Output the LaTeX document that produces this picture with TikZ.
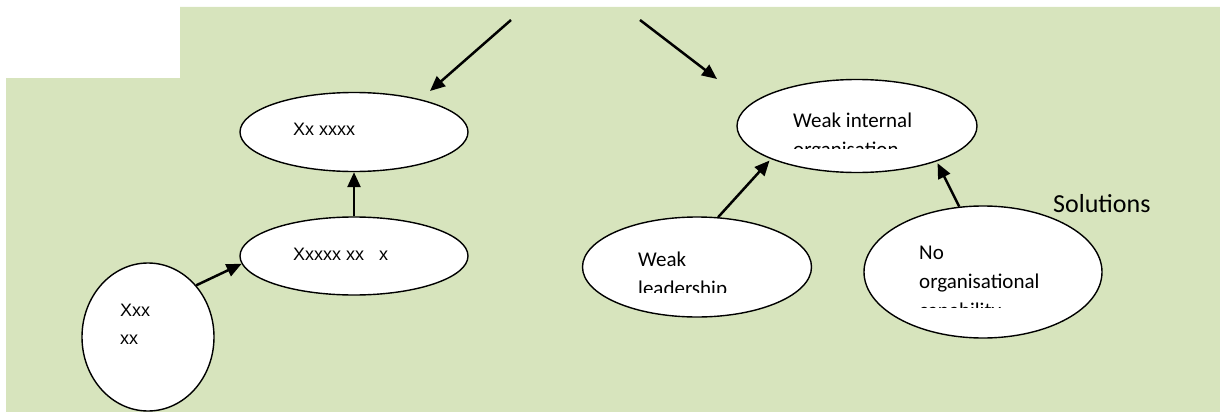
\documentclass[tikz,border=0pt]{standalone}
\usepackage{fontspec}
\setmainfont{Carlito}
\newfontfamily\arialfont{Liberation Sans}
\usetikzlibrary{shapes.geometric,arrows.meta}
\definecolor{bggreen}{HTML}{D7E4BD}
\begin{document}
\begin{tikzpicture}[
        x=1pt, y=-1pt,
        bubble/.style={draw, ellipse, fill=white, line width=1.4pt, inner sep=0pt},
        txt/.style={anchor=base west, inner sep=0pt, align=left, font=\fontsize{21}{29}\selectfont},
        xtxt/.style={anchor=base west, inner sep=0pt, align=left, font=\arialfont\fontsize{18}{28}\selectfont},
        arr/.style={-{Triangle[length=15pt,width=13pt]}, line width=2.5pt},
    ]
    \useasboundingbox (0,0) rectangle (1220,412);
    % background
    \fill[bggreen] (180,7) -- (1220,7) -- (1220,412) -- (6,412) -- (6,78) -- (180,78) -- cycle;

    % left branch
    \node[bubble, minimum width=228pt, minimum height=79pt](goal) at (354,132){};
    \node[bubble, minimum width=228pt, minimum height=78pt](mid) at (354,256){};
    \node[bubble, minimum width=132pt, minimum height=148pt](root) at (148,337){};
    \node[xtxt](t-goal) at (293,135){Xx xxxx};
    \node[xtxt](t-mid) at (293,260){Xxxxx xx\ \ \ x};
    \node[xtxt](t-root) at (120,344){Xxx\\xx};

    % right branch (base = last line)
    \node[bubble, minimum width=240pt, minimum height=93pt](internal) at (857,126){};
    \node[bubble, minimum width=229pt, minimum height=100pt](leader) at (697,267){};
    \node[bubble, minimum width=238pt, minimum height=132pt](capab) at (983,272){};
    \begin{scope}
        \clip (780,100) rectangle (980,148);
        \node[txt](t-internal) at (793,156){Weak internal\\organisation};
    \end{scope}
    \begin{scope}
        \clip (620,240) rectangle (800,292);
        \node[txt](t-leader) at (638,295){Weak\\leadership};
    \end{scope}
    \begin{scope}
        \clip (900,230) rectangle (1090,307);
        \node[txt](t-capab) at (919,317){No\\organisational\\capability};
    \end{scope}
    \node[txt, font=\fontsize{26}{30}\selectfont](solutions) at (1053,212){Solutions};

    % connectors
    \coordinate (top-l) at (511,20);
    \coordinate (end-l) at (430,91);
    \coordinate (top-r) at (640,20);
    \coordinate (end-r) at (717,79);
    \draw[arr] (top-l) -- (end-l);
    \draw[arr] (top-r) -- (end-r);
    \draw[arr] (mid.north) -- (goal.south);
    \draw[arr] (root.47) -- (mid.184);
    \draw[arr, shorten >=2pt] (leader.67) -- (internal.201);
    \draw[arr, shorten >=2pt] (capab.110) -- (internal.336);
\end{tikzpicture}
\end{document}
